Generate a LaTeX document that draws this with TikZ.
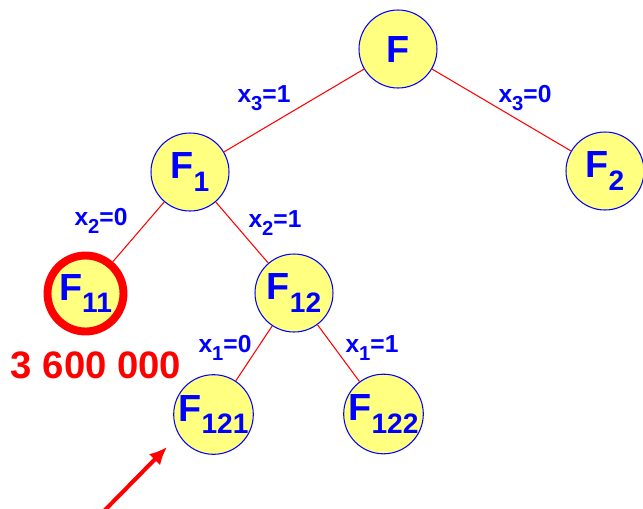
\documentclass[tikz,border=0pt]{standalone}
\usepackage{fontspec}
\setmainfont{Liberation Sans}
\usetikzlibrary{arrows.meta}

\definecolor{nodeyellow}{RGB}{255,255,128}
\definecolor{nodeblue}{RGB}{0,0,255}
\definecolor{linered}{RGB}{255,0,0}

\newcommand{\idx}[1]{\raisebox{-0.32em}{\fontsize{16}{16}\selectfont #1}}
\newcommand{\vidx}[1]{\raisebox{-0.35em}{\fontsize{11.5}{11.5}\selectfont #1}}

\begin{document}
\begin{tikzpicture}[
    x=0.02cm, y=-0.02cm,
    subproblem/.style={
        circle,
        draw=nodeblue,
        fill=nodeyellow,
        line width=0.6pt,
        minimum size=1.56cm,
        inner sep=0pt,
        text=nodeblue,
        font=\fontsize{21.5}{21.5}\selectfont\bfseries,
    },
    chosen/.style={
        draw=linered,
        line width=4.5pt,
        minimum size=1.52cm,
    },
    branch/.style={
        text=nodeblue,
        font=\fontsize{14}{14}\selectfont\bfseries,
    },
    edge/.style={
        line width=0.6pt,
        draw=linered
    }
]
    \useasboundingbox (0,0) rectangle (643,508);

    \node[subproblem] (F) at (398, 49) {F};

    \node[subproblem] (F1) at (190, 172) {F\idx{1}};
    \node[subproblem] (F2) at (605, 171) {F\idx{2}};

    \node[subproblem, chosen] (F11) at (85.5, 293.5) {F\idx{11}};
    \node[subproblem] (F12) at (294, 293) {F\idx{12}};

    \node[subproblem] (F121) at (213.5, 414.5) {F\idx{121}};
    \node[subproblem] (F122) at (383.5, 414) {F\idx{122}};

    \draw[edge] (F) -- (F1);
    \draw[edge] (F) -- (F2);

    \draw[edge] (F1) -- (F11);
    \draw[edge] (F1) -- (F12);

    \draw[edge] (F12) -- (F121);
    \draw[edge] (F12) -- (F122);

    \node[branch] (b31) at (264, 98) {x\vidx{3}=1};
    \node[branch] (b30) at (525, 98) {x\vidx{3}=0};
    \node[branch] (b20) at (101, 221) {x\vidx{2}=0};
    \node[branch] (b21) at (275, 223) {x\vidx{2}=1};
    \node[branch] (b10) at (225, 348) {x\vidx{1}=0};
    \node[branch] (b11) at (372, 348) {x\vidx{1}=1};

    \node[text=linered, font=\fontsize{21.8}{21.8}\selectfont\bfseries] (bound) at (96, 365) {3 600 000};

    \coordinate (tail) at (103, 512);
    \coordinate (tip) at (167, 447);
    \draw[linered, line width=2.3pt, -{Latex[length=10pt, width=9pt]}] (tail) -- (tip);
\end{tikzpicture}
\end{document}
